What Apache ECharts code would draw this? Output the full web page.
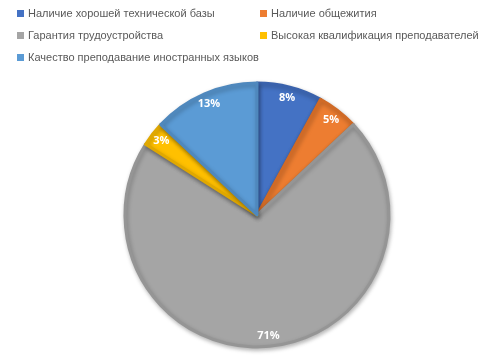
<!DOCTYPE html>
<html>
<head>
<meta charset="utf-8">
<script src="https://cdn.jsdelivr.net/npm/echarts@6/dist/echarts.min.js"></script>
<style>
html,body{margin:0;padding:0;background:#fff;}
#chart{width:497px;height:357px;}
</style>
</head>
<body>
<div id="chart"></div>
<script>
var names = [
    'Наличие хорошей технической базы',
    'Наличие общежития',
    'Гарантия трудоустройства',
    'Высокая квалификация преподавателей',
    'Качество преподавание иностранных языков'
];
var values = [8, 5, 71, 3, 13];
var colors = ['#4472C4', '#ED7D31', '#A5A5A5', '#FFC000', '#5B9BD5'];
var edges = ['#3A62AC', '#D06A26', '#959595', '#E0A800', '#4F88BD'];

var pieData = [];
var labelData = [];
for (var i = 0; i < names.length; i++) {
    pieData.push({
        name: names[i],
        value: values[i],
        itemStyle: {color: colors[i], borderColor: edges[i]}
    });
    labelData.push({name: names[i], value: values[i]});
}

// legend positions (two columns)
var legPos = [[12, 3], [255, 3], [12, 25], [255, 25], [12, 47]];
var legends = [];
for (var i = 0; i < names.length; i++) {
    legends.push({
        data: [names[i]],
        left: legPos[i][0],
        top: legPos[i][1],
        itemWidth: 7,
        itemHeight: 7,
        icon: 'rect',
        itemGap: 4,
        itemStyle: {borderWidth: 0},
        textStyle: {fontFamily: 'Liberation Sans', fontSize: 11, color: '#595959', padding: [0, 0, 0, -1]}
    });
}

var chart = echarts.init(document.getElementById('chart'));
var option = {
    backgroundColor: '#FFFFFF',
    animation: false,
    legend: legends,
    series: [
        {
            name: 'main',
            type: 'pie',
            center: [257, 215],
            radius: 132,
            startAngle: 90,
            clockwise: true,
            label: {show: false},
            labelLine: {show: false},
            itemStyle: {
                borderWidth: 3,
                shadowBlur: 4,
                shadowOffsetX: 1,
                shadowOffsetY: 2,
                shadowColor: 'rgba(0,0,0,0.25)'
            },
            data: pieData
        },
        {
            name: 'labels',
            type: 'pie',
            center: [257, 215],
            radius: [104, 132],
            startAngle: 90,
            clockwise: true,
            silent: true,
            legendHoverLink: false,
            itemStyle: {color: 'rgba(0,0,0,0)'},
            label: {
                show: true,
                position: 'inside',
                formatter: '{c}%',
                color: '#FFFFFF',
                fontFamily: 'Open Sans',
                fontWeight: 'bold',
                fontSize: 11
            },
            labelLine: {show: false},
            data: labelData
        }
    ]
};
chart.setOption(option);
</script>
</body>
</html>
